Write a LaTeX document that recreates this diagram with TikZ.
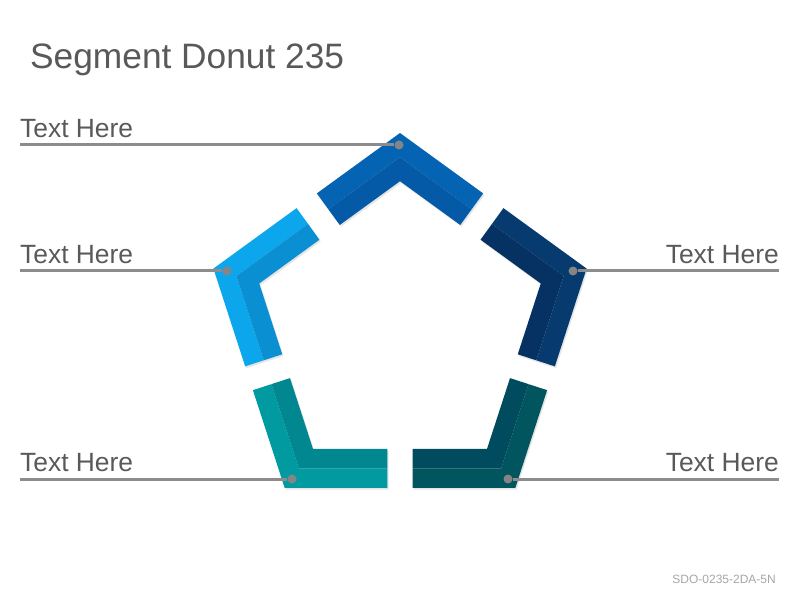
\documentclass[tikz,border=0pt]{standalone}
\usepackage{fontspec}
\setmainfont{Liberation Sans}

\definecolor{textgray}{HTML}{595959}
\definecolor{linegray}{HTML}{8C8C8C}
\definecolor{dotgray}{HTML}{858585}
\definecolor{codegray}{HTML}{A6A6A6}
\definecolor{topout}{HTML}{0563B4}
\definecolor{topin}{HTML}{055AA7}
\definecolor{rightout}{HTML}{073B6F}
\definecolor{rightin}{HTML}{053262}
\definecolor{brout}{HTML}{00555F}
\definecolor{brin}{HTML}{004C5E}
\definecolor{blout}{HTML}{009AA0}
\definecolor{blin}{HTML}{00878F}
\definecolor{leftout}{HTML}{0BA6EC}
\definecolor{leftin}{HTML}{0A8FD3}

\begin{document}
\begin{tikzpicture}[x=1pt,y=1pt]
  \tikzstyle{label}=[inner sep=0pt,text=textgray,font=\fontsize{26.4}{30}\selectfont]
  \tikzstyle{dot}=[circle,fill=dotgray,minimum size=9pt,inner sep=0pt]
  \tikzstyle{leader}=[draw=linegray,line width=3pt]

  \useasboundingbox (0,0) rectangle (800,600);

  % pentagon segments, one per vertex
  \foreach \k/\cout/\cin in {0/topout/topin, 1/rightout/rightin, 2/brout/brin, 3/blout/blin, 4/leftout/leftin}{
    \begin{scope}[shift={(401.2,269)},rotate=-72*\k]
      \fill[black,opacity=0.1] (-83.17,135.78) -- (0,196.2) -- (83.17,135.78) -- (60.25,104.23) -- (0,148) -- (-60.25,104.23) -- cycle;
    \end{scope}
    \begin{scope}[shift={(400,270.8)},rotate=-72*\k]
      \fill[\cout] (-83.17,135.78) -- (0,196.2) -- (83.17,135.78) -- (71.71,120) -- (0,172.1) -- (-71.71,120) -- cycle;
      \fill[\cin] (-71.71,120) -- (0,172.1) -- (71.71,120) -- (60.25,104.23) -- (0,148) -- (-60.25,104.23) -- cycle;
    \end{scope}
  }

  \node[anchor=base west,inner sep=0pt,text=textgray,font=\fontsize{35.3}{40}\selectfont] (title) at (30,531.7) {Segment Donut 235};
  \node[anchor=base east,inner sep=0pt,text=codegray,font=\fontsize{12}{14}\selectfont] (code) at (776,17) {SDO-0235-2DA-5N};

  \node[dot] (D1) at (399,455) {};
  \node[dot] (D2) at (573,329) {};
  \node[dot] (D3) at (508,121) {};
  \node[dot] (D4) at (292,121) {};
  \node[dot] (D5) at (227,329) {};

  \coordinate (E1) at (20,455);
  \coordinate (E2) at (779,329);
  \coordinate (E3) at (779,121);
  \coordinate (E4) at (20,121);
  \coordinate (E5) at (20,329);

  \node[label,anchor=base west] (T1) at (20,462.7) {Text Here};
  \node[label,anchor=base east] (T2) at (779,336.7) {Text Here};
  \node[label,anchor=base east] (T3) at (779,128.7) {Text Here};
  \node[label,anchor=base west] (T4) at (20,128.7) {Text Here};
  \node[label,anchor=base west] (T5) at (20,336.7) {Text Here};

  \path[leader] (E1) -- (D1)
	(D2) -- (E2)
	(D3) -- (E3)
	(E4) -- (D4)
	(E5) -- (D5);
\end{tikzpicture}
\end{document}
